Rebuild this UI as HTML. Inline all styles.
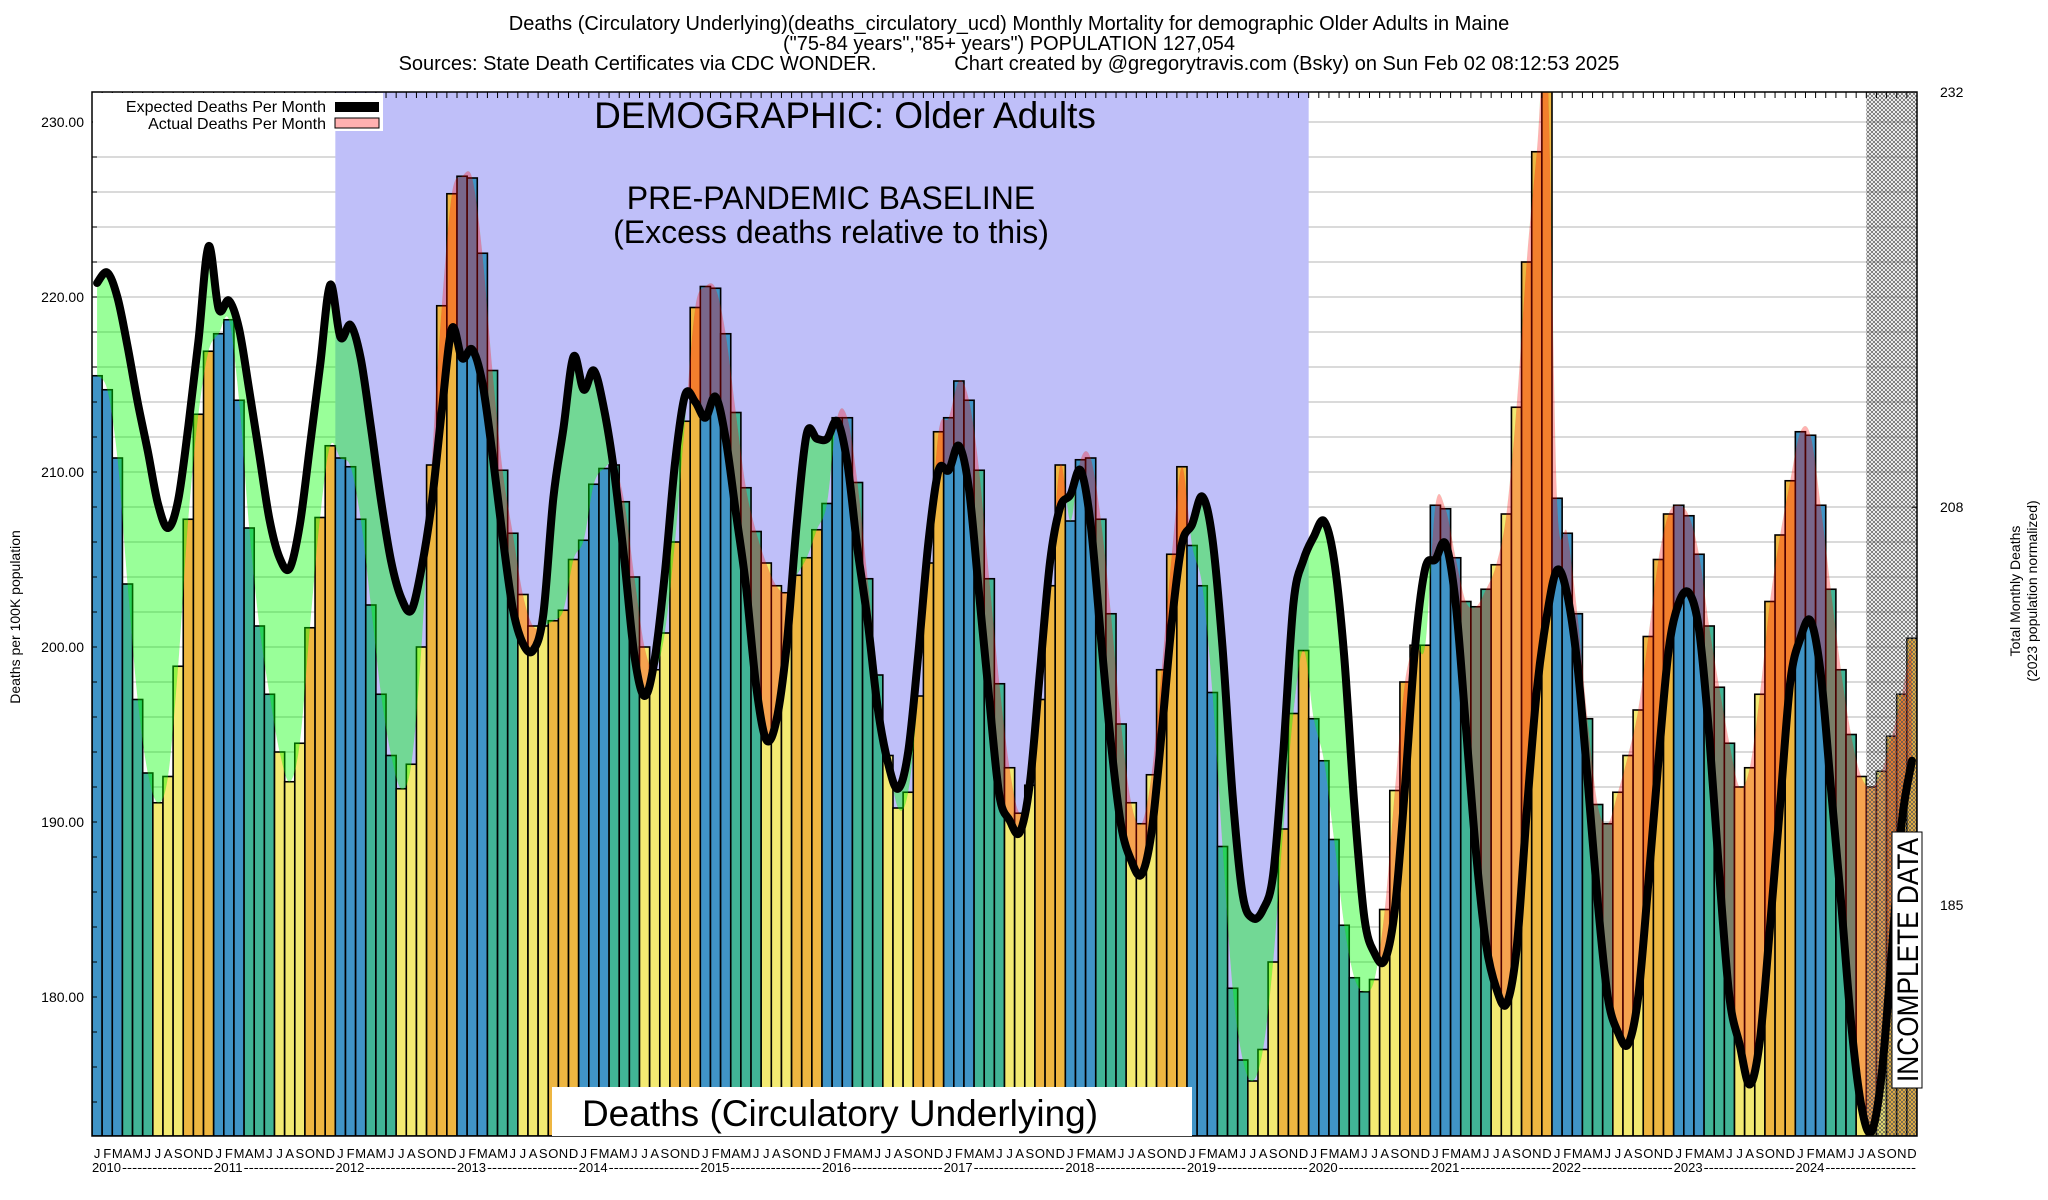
<!DOCTYPE html>
<html><head><meta charset="utf-8">
<style>
html,body{margin:0;padding:0;background:#fff;}
svg{display:block;font-family:"Liberation Sans",Arial,sans-serif;}
</style></head>
<body>
<svg id="chart" width="2048" height="1200" viewBox="0 0 2048 1200" xmlns="http://www.w3.org/2000/svg">
<defs>
<clipPath id="plotClip"><rect x="92" y="92" width="1825" height="1044"/></clipPath>
<pattern id="hatch" width="4" height="4" patternUnits="userSpaceOnUse">
<path d="M0,0 L4,4 M4,0 L0,4" stroke="#555" stroke-width="0.7"/>
</pattern>
</defs>
<g font-size="20" text-anchor="middle" fill="#000">
<text x="1009" y="30">Deaths (Circulatory Underlying)(deaths_circulatory_ucd) Monthly Mortality for demographic Older Adults in Maine</text>
<text x="1009" y="50">("75-84 years","85+ years") POPULATION 127,054</text>
<text x="1009" y="70" xml:space="preserve">Sources: State Death Certificates via CDC WONDER.              Chart created by @gregorytravis.com (Bsky) on Sun Feb 02 08:12:53 2025</text>
</g>
<g id="grid"></g>
<rect id="baseline" fill="#bfbff9"/>
<g id="bars" clip-path="url(#plotClip)"></g>
<g id="fills" clip-path="url(#plotClip)"></g>
<rect id="hatchRect" fill="url(#hatch)"/>
<g id="lineG" clip-path="url(#plotClip)"></g>
<g id="axes"></g>
<g>
<rect x="93" y="93" width="290" height="38" fill="#fff"/>
<text x="326" y="112" font-size="16" text-anchor="end">Expected Deaths Per Month</text>
<rect x="335" y="102" width="44" height="10" fill="#000"/>
<text x="326" y="129" font-size="16" text-anchor="end">Actual Deaths Per Month</text>
<rect x="335" y="118" width="44" height="10" fill="#ffb0b0" stroke="#000" stroke-width="1"/>
</g>
<text x="845" y="128" font-size="37" text-anchor="middle">DEMOGRAPHIC: Older Adults</text>
<text x="831" y="209" font-size="32" text-anchor="middle">PRE-PANDEMIC BASELINE</text>
<text x="831" y="243" font-size="32" text-anchor="middle">(Excess deaths relative to this)</text>
<rect x="552" y="1087" width="640" height="49" fill="#fff"/>
<text x="840" y="1126" font-size="37" text-anchor="middle">Deaths (Circulatory Underlying)</text>
<g transform="translate(1907,960) rotate(-90)">
<rect x="-128" y="-15" width="256" height="30" fill="#fff" stroke="#000" stroke-width="1"/>
<text x="0" y="11" font-size="30" text-anchor="middle" textLength="244" lengthAdjust="spacingAndGlyphs">INCOMPLETE DATA</text>
</g>
<text transform="translate(20,617) rotate(-90)" font-size="14" text-anchor="middle">Deaths per 100K population</text>
<g font-size="14" text-anchor="middle">
<text transform="translate(2020,591) rotate(-90)">Total Monthly Deaths</text>
<text transform="translate(2037,591) rotate(-90)">(2023 population normalized)</text>
</g>
</svg>
<script>
const actual = [
215.5,214.7,210.8,203.6,197.0,192.8,191.1,192.6,198.9,207.3,213.3,216.9,
217.9,218.7,214.1,206.8,201.2,197.3,194.0,192.3,194.5,201.1,207.4,211.5,
210.8,210.3,207.3,202.4,197.3,193.8,191.9,193.3,200.0,210.4,219.5,225.9,
226.9,226.8,222.5,215.8,210.1,206.5,203.0,201.2,201.2,201.5,202.1,205.0,
206.1,209.3,210.2,210.4,208.3,204.0,200.0,198.7,200.8,206.0,212.9,219.4,
220.6,220.5,217.9,213.4,209.1,206.6,204.8,203.5,203.1,204.1,205.1,206.7,
208.2,213.1,213.1,209.4,203.9,198.4,193.8,190.8,191.7,197.2,204.8,212.3,
213.1,215.2,214.1,210.1,203.9,197.9,193.1,190.5,192.1,197.0,203.5,210.4,
207.2,210.7,210.8,207.3,201.9,195.6,191.1,189.9,192.7,198.7,205.3,210.3,
205.8,203.5,197.4,188.6,180.5,176.4,175.2,177.0,182.0,189.6,196.2,199.8,
195.9,193.5,189.0,184.1,181.1,180.3,181.0,185.0,191.8,198.0,200.1,200.1,
208.1,207.9,205.1,202.6,202.3,203.3,204.7,207.6,213.7,222.0,228.3,234.0,
208.5,206.5,201.9,195.9,191.0,189.9,191.7,193.8,196.4,200.6,205.0,207.6,
208.1,207.5,205.3,201.2,197.7,194.5,192.0,193.1,197.3,202.6,206.4,209.5,
212.3,212.1,208.1,203.3,198.7,195.0,192.6,192.0,192.9,194.9,197.3,200.5
];
const expected = [
220.8,221.4,220.0,217.2,214.0,211.2,208.2,206.8,208.4,212.6,217.5,222.9,
219.3,219.8,218.2,214.7,211.0,207.3,205.1,204.5,207.0,211.5,216.1,220.7,
217.7,218.4,216.5,212.6,208.4,204.9,202.8,202.1,204.5,208.2,213.5,218.2,
216.5,217.0,215.1,211.0,206.3,202.2,200.2,199.8,201.8,208.5,212.5,216.6,
214.7,215.8,213.6,210.0,205.0,199.5,197.2,199.3,204.2,210.5,214.4,214.0,
213.1,214.3,211.9,207.7,203.5,197.8,194.7,195.8,200.0,207.0,212.2,211.9,
211.9,212.9,210.5,205.6,201.5,196.5,193.4,191.9,194.0,199.6,206.0,210.1,
210.1,211.5,209.0,203.0,197.0,191.5,190.1,189.4,192.2,198.6,204.9,208.0,
208.7,210.1,207.0,200.6,194.5,189.8,187.8,187.0,189.4,195.1,201.4,205.9,
207.0,208.6,206.2,200.0,191.5,185.8,184.5,185.0,187.0,194.0,202.5,205.0,
206.3,207.2,205.0,199.5,191.0,184.5,182.5,182.1,185.0,192.0,200.0,204.5,
205.0,205.9,202.5,195.5,188.3,183.0,180.5,179.6,182.7,190.5,197.5,201.8,
204.4,203.0,199.0,192.5,185.5,180.0,178.0,177.3,180.0,186.5,193.5,199.8,
202.5,203.1,201.0,195.0,187.0,180.0,177.3,175.0,177.5,184.0,191.0,198.0,
200.5,201.5,198.5,192.0,185.5,178.5,173.8,172.3,175.5,182.5,190.0,193.5
];
const monthLetters = ["J","F","M","A","M","J","J","A","S","O","N","D"];
const yearLabels = ["2010","2011","2012","2013","2014","2015","2016","2017","2018","2019","2020","2021","2022","2023","2024"];
const yTickLabels = [230,220,210,200,190,180];
const rightTickLabels = [232,208,185];
const seasonColors = ["#4094c7","#41b496","#f3ea72","#eeb641"];

const NS = "http://www.w3.org/2000/svg";
const L = 92, R = 1917, T = 92, B = 1136;
const N = actual.length;
const W = (R - L) / 180;
function xLeft(i){ return L + i * W; }
function xC(i){ return L + (i + 0.5) * W; }
function yV(v){ return 122 + (230 - v) * 17.5; }
function yRight(r){ return 92 + (232 - r) * 17.3; }
function mk(tag, attrs, parent){
  const e = document.createElementNS(NS, tag);
  for (const k in attrs) e.setAttribute(k, attrs[k]);
  parent.appendChild(e);
  return e;
}
function spline(pts){
  let d = "";
  for (let i = 0; i < pts.length; i++){
    const p = pts[i];
    if (i === 0){ d += "M" + p[0].toFixed(2) + "," + p[1].toFixed(2); continue; }
    const p0 = pts[Math.max(0, i - 2)], p1 = pts[i - 1], p2 = p, p3 = pts[Math.min(pts.length - 1, i + 1)];
    const c1x = p1[0] + (p2[0] - p0[0]) / 6, c1y = p1[1] + (p2[1] - p0[1]) / 6;
    const c2x = p2[0] - (p3[0] - p1[0]) / 6, c2y = p2[1] - (p3[1] - p1[1]) / 6;
    d += " C" + c1x.toFixed(2) + "," + c1y.toFixed(2) + " " + c2x.toFixed(2) + "," + c2y.toFixed(2) + " " + p2[0].toFixed(2) + "," + p2[1].toFixed(2);
  }
  return d;
}
const svg = document.getElementById("chart");

const grid = document.getElementById("grid");
for (let v = 174; v <= 230; v += 2){
  const gl = mk("line", {x1: L, x2: R, y1: yV(v), y2: yV(v), stroke: "#c4c4c4", "stroke-width": 1.2}, grid);
  
  
}

const base = document.getElementById("baseline");
base.setAttribute("x", xLeft(24)); base.setAttribute("y", T);
base.setAttribute("width", xLeft(120) - xLeft(24)); base.setAttribute("height", B - T);

const barsG = document.getElementById("bars");
for (let i = 0; i < N; i++){
  const y = yV(actual[i]);
  const r = mk("rect", {x: xLeft(i), y: y, width: W, height: B - y, fill: seasonColors[Math.floor((i % 12) / 3)], stroke: "#000", "stroke-width": 1.6}, barsG);
  
  
}

const aPts = actual.map((v, i) => [xC(i), yV(v)]);
const ePts = expected.map((v, i) => [xC(i), yV(v)]);
const aPath = spline(aPts);
const aRevPath = spline(aPts.slice().reverse());
const ePath = spline(ePts);
const defs = svg.querySelector("defs");
const cpA = mk("clipPath", {id: "aboveActual"}, defs);
mk("path", {d: aPath + " L" + R + "," + (T - 60) + " L" + L + "," + (T - 60) + " Z"}, cpA);
const cpB = mk("clipPath", {id: "belowActual"}, defs);
mk("path", {d: aPath + " L" + R + "," + (B + 60) + " L" + L + "," + (B + 60) + " Z"}, cpB);
const between = ePath + " L" + aPts[N - 1][0] + "," + aPts[N - 1][1] + aRevPath.replace(/^M[^C]*/, "") + " Z";
const fillsG = document.getElementById("fills");
const gA = mk("g", {"clip-path": "url(#aboveActual)"}, fillsG);
const green = mk("path", {d: between, fill: "#00ff00", "fill-opacity": 0.4, "fill-rule": "evenodd"}, gA);


const gB = mk("g", {"clip-path": "url(#belowActual)"}, fillsG);
const pink = mk("path", {d: between, fill: "#ff0000", "fill-opacity": 0.3, "fill-rule": "evenodd"}, gB);



const hr = document.getElementById("hatchRect");
hr.setAttribute("x", xLeft(175)); hr.setAttribute("y", T);
hr.setAttribute("width", R - xLeft(175)); hr.setAttribute("height", B - T);

const lineG = document.getElementById("lineG");
const ln = mk("path", {d: ePath, fill: "none", stroke: "#000", "stroke-width": 8, "stroke-linejoin": "round", "stroke-linecap": "round"}, lineG);



const ax = document.getElementById("axes");
const frame = mk("rect", {x: L, y: T, width: R - L, height: B - T, fill: "none", stroke: "#000", "stroke-width": 1.5}, ax);


for (let v = 174; v <= 230; v += 2){
  mk("line", {x1: L, x2: L + 5, y1: yV(v), y2: yV(v), stroke: "#000", "stroke-width": 1}, ax);
}
yTickLabels.forEach(v => {
  const t = mk("text", {x: 84, y: yV(v) + 5, "font-size": 14, "text-anchor": "end"}, ax);
  t.textContent = v.toFixed(2);
  
  
});
rightTickLabels.forEach(r => {
  const t = mk("text", {x: 1940, y: yRight(r) + 5, "font-size": 14}, ax);
  t.textContent = String(r);
  
  
  mk("line", {x1: R - 5, x2: R, y1: yRight(r), y2: yRight(r), stroke: "#000", "stroke-width": 1}, ax);
});
for (let i = 0; i <= 180; i++){
  mk("line", {x1: xLeft(i), x2: xLeft(i), y1: T, y2: T + 6, stroke: "#000", "stroke-width": 1}, ax);
}
for (let i = 0; i < N; i++){
  const t = mk("text", {x: xC(i), y: 1158, "font-size": 13, "text-anchor": "middle"}, ax);
  t.textContent = monthLetters[i % 12];
  
  
}
yearLabels.forEach((yr, k) => {
  const x0 = xLeft(k * 12);
  const t = mk("text", {x: x0, y: 1172, "font-size": 13, textLength: 29, lengthAdjust: "spacingAndGlyphs"}, ax);
  t.textContent = yr;
  
  
  const d = mk("text", {x: x0 + 30, y: 1172, "font-size": 13, textLength: 12 * W - 31, lengthAdjust: "spacingAndGlyphs"}, ax);
  d.textContent = "------------------";
  
  
});
</script>
</body></html>
